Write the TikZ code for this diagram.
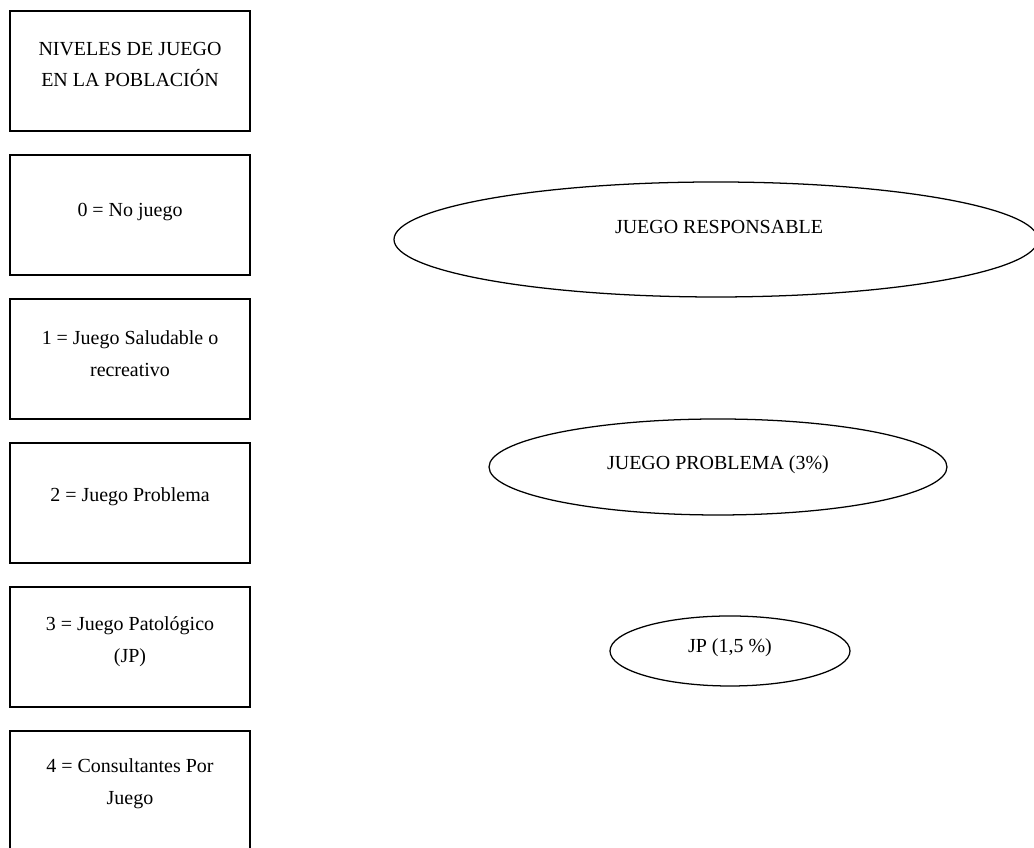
\documentclass[tikz,border=0pt]{standalone}
\usepackage{fontspec}
\setmainfont{Liberation Serif}
\usepackage{tikz}

\begin{document}
\begin{tikzpicture}[line width=0.9pt]
  \tikzstyle{every node}=[font=\fontsize{14.2}{22.7}\selectfont, align=center, inner sep=0pt]
  \clip (0,0) rectangle (25.85,21.2);
  \draw (0.25,17.925) rectangle (6.25,20.925);
  \node (titulo) at (3.25,19.5875)[]{NIVELES DE JUEGO\\EN LA POBLACIÓN};
  \draw (0.25,14.325) rectangle (6.25,17.325);
  \node (nivel0) at (3.25,15.9)[]{0 = No juego};
  \draw (0.25,10.725) rectangle (6.25,13.725);
  \node (nivel1) at (3.25,12.3625)[]{1 = Juego Saludable o\\recreativo};
  \draw (0.25,7.125) rectangle (6.25,10.125);
  \node (nivel2) at (3.25,8.775)[]{2 = Juego Problema};
  \draw (0.25,3.525) rectangle (6.25,6.525);
  \node (nivel3) at (3.25,5.1625)[]{3 = Juego Patológico\\(JP)};
  \draw (0.25,-0.075) rectangle (6.25,2.925);
  \node (nivel4) at (3.25,1.6)[]{4 = Consultantes Por\\Juego};
  \draw (17.9,15.2125) ellipse (8.05 and 1.4375);
  \node (responsable) at (17.975,15.525)[]{JUEGO RESPONSABLE};
  \draw (17.95,9.525) ellipse (5.725 and 1.2);
  \node (problema) at (17.95,9.575)[]{JUEGO PROBLEMA (3\%)};
  \draw (18.25,4.925) ellipse (3.0 and 0.875);
  \node (patologico) at (18.25,5.0)[]{JP (1,5 \%)};
\end{tikzpicture}
\end{document}
